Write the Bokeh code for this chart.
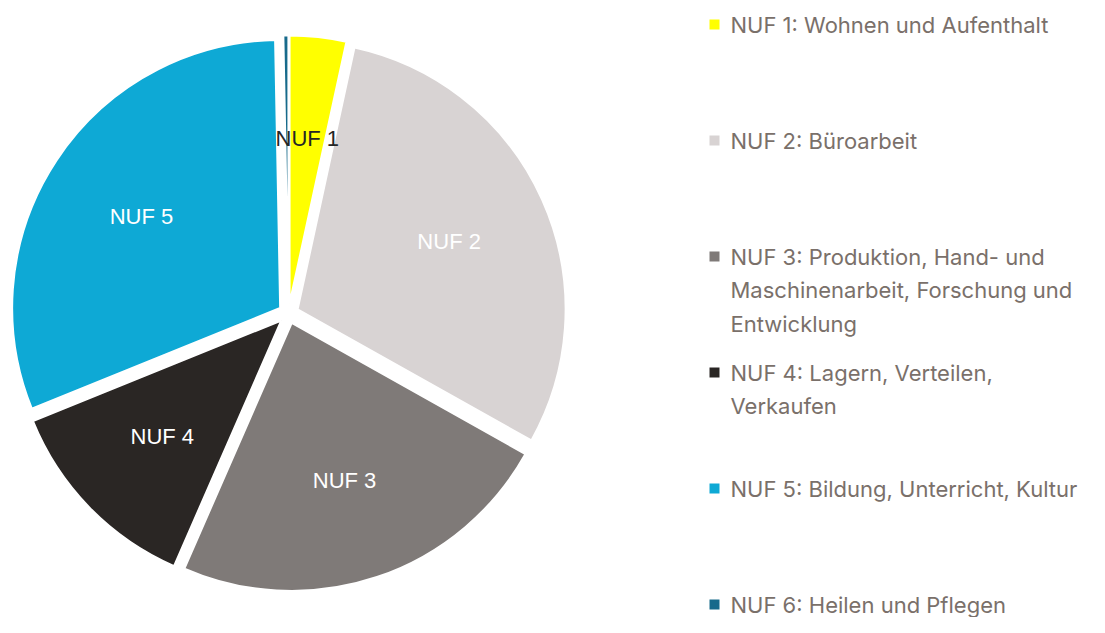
import math
from bokeh.plotting import figure
from bokeh.models import Range1d, ColumnDataSource
from bokeh.core.properties import value
from bokeh.embed import file_html
from bokeh.resources import INLINE

# ---- data ----
categories = ["NUF 1", "NUF 2", "NUF 3", "NUF 4", "NUF 5", "NUF 6"]
legend_labels = [
    ["NUF 1: Wohnen und Aufenthalt"],
    ["NUF 2: Büroarbeit"],
    ["NUF 3: Produktion, Hand- und", "Maschinenarbeit, Forschung und", "Entwicklung"],
    ["NUF 4: Lagern, Verteilen,", "Verkaufen"],
    ["NUF 5: Bildung, Unterricht, Kultur"],
    ["NUF 6: Heilen und Pflegen"],
]
shares = [3.4, 29.7, 23.4, 12.3, 30.8, 0.3]
colors = ["#FFFF00", "#D8D3D3", "#7F7A78", "#2A2624", "#0EA9D5", "#176A8B"]
label_colors = ["#262626", "#FFFFFF", "#FFFFFF", "#FFFFFF", "#FFFFFF", None]

# ---- layout ----
W, H = 1089, 617
def py(y):  # figure pixel y (from top) -> data y
    return H - y

cx, cy = 288, py(313)
R = 268
EXPLODE = 10
LABEL_F = 0.62

p = figure(width=W, height=H, output_backend="svg", toolbar_location=None,
           x_range=Range1d(0, W), y_range=Range1d(0, H),
           min_border=0, outline_line_color=None)
p.axis.visible = False
p.grid.visible = False
p.background_fill_color = "white"
p.border_fill_color = "white"

total = sum(shares)
xs, ys, starts, ends, mids = [], [], [], [], []
cum = 0.0
for s in shares:
    a0 = math.pi / 2 - 2 * math.pi * cum / total
    cum += s
    a1 = math.pi / 2 - 2 * math.pi * cum / total
    mid = (a0 + a1) / 2
    xs.append(cx + EXPLODE * math.cos(mid))
    ys.append(cy + EXPLODE * math.sin(mid))
    starts.append(a0)
    ends.append(a1)
    mids.append(mid)

src = ColumnDataSource(dict(x=xs, y=ys, start=starts, end=ends, color=colors))
p.wedge(x="x", y="y", radius=R, start_angle="start", end_angle="end",
        direction="clock", fill_color="color", line_color="white", line_width=2,
        source=src)

# slice labels
lx, ly, lt, lc = [], [], [], []
for i, c in enumerate(categories):
    if label_colors[i] is None:
        continue
    lx.append(cx + (EXPLODE + LABEL_F * R) * math.cos(mids[i]))
    ly.append(cy + (EXPLODE + LABEL_F * R) * math.sin(mids[i]))
    lt.append(c)
    lc.append(label_colors[i])
p.text(x=lx, y=ly, text=lt, text_color=lc, text_font=value("Liberation Sans"),
       text_font_size="22px", text_align="center", text_baseline="middle")

# legend
LEG_X = 714
LEG_Y0 = 24
LEG_STEP = 116
LINE_H = 33.5
mx, my = [], []
tx, ty, tt = [], [], []
for i, lines in enumerate(legend_labels):
    yy = LEG_Y0 + i * LEG_STEP
    mx.append(LEG_X)
    my.append(py(yy))
    for j, line in enumerate(lines):
        tx.append(LEG_X + 16)
        ty.append(py(yy + j * LINE_H))
        tt.append(line)
p.scatter(x=mx, y=my, marker="square", size=10, fill_color=colors, line_color=None)
p.text(x=tx, y=ty, text=tt, text_color="#7A706A", text_font=value("Inter"),
       text_font_size="22px", text_align="left", text_baseline="middle")

open("out.html", "w").write(file_html(p, INLINE))
